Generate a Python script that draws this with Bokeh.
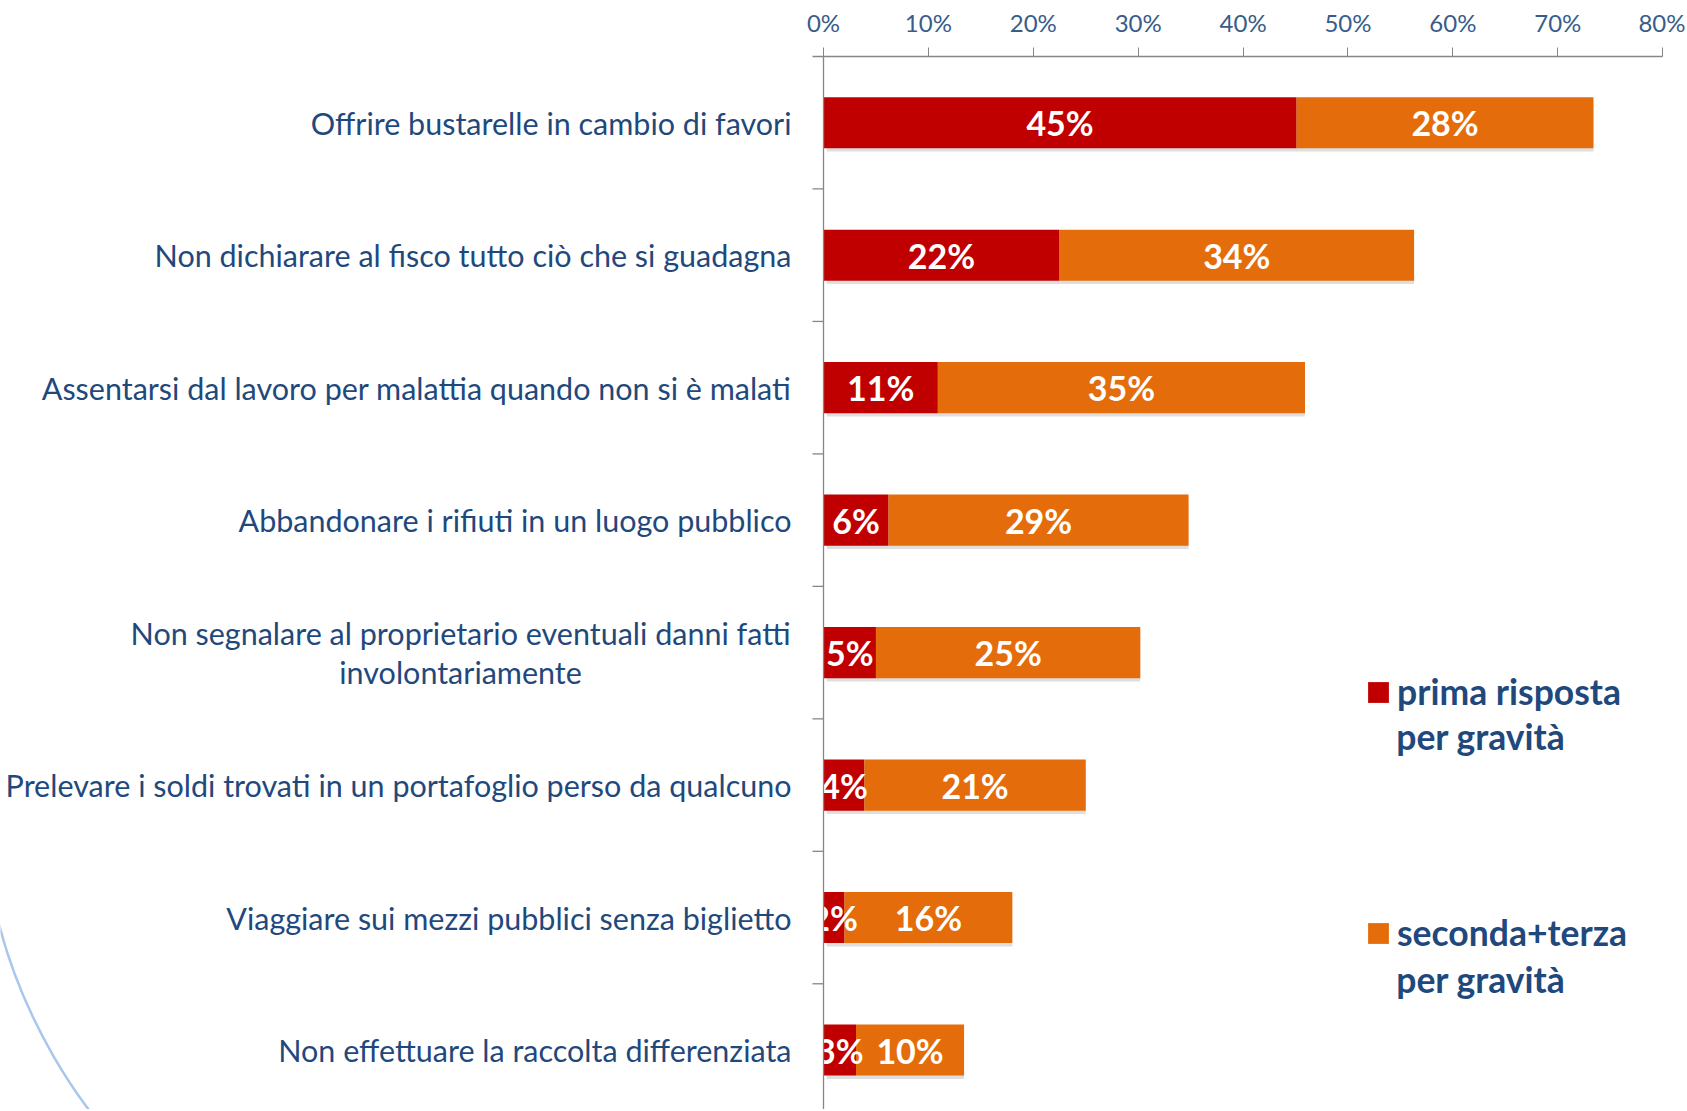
from bokeh.plotting import figure
from bokeh.models import Range1d, FixedTicker, NumeralTickFormatter, Span, Legend, LegendItem, ColumnDataSource, Label
from bokeh.core.properties import value
from bokeh.embed import file_html
from bokeh.resources import INLINE

categories = [
    "Offrire bustarelle in cambio di favori",
    "Non dichiarare al fisco tutto ciò che si guadagna",
    "Assentarsi dal lavoro per malattia quando non si è malati",
    "Abbandonare i rifiuti in un luogo pubblico",
    "Non segnalare al proprietario eventuali danni fatti\ninvolontariamente",
    "Prelevare i soldi trovati in un portafoglio perso da qualcuno",
    "Viaggiare sui mezzi pubblici senza biglietto",
    "Non effettuare la raccolta differenziata",
]
prima = [0.451, 0.225, 0.109, 0.062, 0.050, 0.039, 0.020, 0.031]
seconda = [0.283, 0.338, 0.350, 0.286, 0.252, 0.211, 0.160, 0.103]
prima_labels = ["45%", "22%", "11%", "6%", "5%", "4%", "2%", "3%"]
seconda_labels = ["28%", "34%", "35%", "29%", "25%", "21%", "16%", "10%"]
x_ticks = [0, 0.1, 0.2, 0.3, 0.4, 0.5, 0.6, 0.7, 0.8]
series_names = ["prima risposta", "seconda+terza"]
series_suffix = "per gravità"

RED = "#C00000"
ORANGE = "#E46C0A"
TEXT_BLUE = "#1F497D"
FONT = value("Lato")

n = len(categories)
ypos = [i + 0.5 for i in range(n)]
total = [a + b for a, b in zip(prima, seconda)]
mid1 = [a / 2 for a in prima]
mid2 = [a + b / 2 for a, b in zip(prima, seconda)]

p = figure(width=1685, height=1109, output_backend="svg", toolbar_location=None,
           x_range=Range1d(-0.78456, 0.82174), y_range=Range1d(7.949, 0),
           x_axis_location="above", y_axis_location=None,
           min_border_left=0, min_border_right=0, min_border_bottom=0, min_border_top=56)
p.outline_line_color = None
p.grid.visible = False

ax = p.xaxis[0]
ax.ticker = FixedTicker(ticks=x_ticks)
ax.formatter = NumeralTickFormatter(format="0%")
ax.bounds = (-0.0105, 0.8)
ax.axis_line_color = "#868686"
ax.axis_line_width = 1.3
ax.major_tick_line_color = "#868686"
ax.major_tick_out = 9
ax.major_tick_in = 0
ax.minor_tick_line_color = None
ax.major_label_text_font = "Lato"
ax.major_label_text_font_size = "24px"
ax.major_label_text_color = "#385D8A"
ax.major_label_standoff = 11

# decorative background arc
p.arc(x=[-0.2883], y=[5.507], radius=540, radius_units="screen",
      start_angle=185, end_angle=235, start_angle_units="deg", end_angle_units="deg",
      line_color="#A7C7EC", line_width=2.5)

# y axis line and boundary ticks
p.add_layout(Span(location=0, dimension="height", line_color="#868686", line_width=1.3))
bounds_y = [i for i in range(1, n)]
p.segment(x0=[-0.0105] * len(bounds_y), x1=[0] * len(bounds_y), y0=bounds_y, y1=bounds_y,
          line_color="#868686", line_width=1.3)

src = ColumnDataSource(dict(y=ypos, prima=prima, total=total, mid1=mid1, mid2=mid2,
                            l1=prima_labels, l2=seconda_labels,
                            ys=[v + 0.025 for v in ypos]))

# shadow
p.hbar(y="ys", left=0.003, right="total", height=0.386, source=src,
       fill_color="#000000", fill_alpha=0.13, line_color=None)
r1 = p.hbar(y="y", left=0, right="prima", height=0.386, source=src,
            fill_color=RED, line_color=None)
r2 = p.hbar(y="y", left="prima", right="total", height=0.386, source=src,
            fill_color=ORANGE, line_color=None)

p.text(x="mid1", y="y", text="l1", source=src, text_align="center", text_baseline="middle",
       text_color="white", text_font=FONT, text_font_style="bold", text_font_size="34px")
p.text(x="mid2", y="y", text="l2", source=src, text_align="center", text_baseline="middle",
       text_color="white", text_font=FONT, text_font_style="bold", text_font_size="34px")

# category labels
single = [i for i, c in enumerate(categories) if "\n" not in c]
multi = [i for i, c in enumerate(categories) if "\n" in c]
p.text(x=[-0.0305] * len(single), y=[ypos[i] for i in single], text=[categories[i] for i in single],
       text_align="right", text_baseline="middle", text_color=TEXT_BLUE,
       text_font=FONT, text_font_size="30.5px")
p.text(x=[-0.346] * len(multi), y=[ypos[i] for i in multi], text=[categories[i] for i in multi],
       text_align="center", text_baseline="middle", text_color=TEXT_BLUE,
       text_font=FONT, text_font_size="30.5px", text_line_height=1.1)

legend = Legend(items=[LegendItem(label=series_names[0], renderers=[r1]),
                       LegendItem(label=series_names[1], renderers=[r2])],
                location=(1365, 155), orientation="vertical",
                glyph_width=26, glyph_height=26, label_standoff=6, spacing=198,
                padding=0, margin=0, border_line_color=None, background_fill_alpha=0,
                label_text_font="Lato", label_text_font_style="bold",
                label_text_font_size="35.5px", label_text_color=TEXT_BLUE)
p.add_layout(legend)

for yy in (5.135, 6.965):
    p.add_layout(Label(x=0.546, y=yy, text=series_suffix, text_align="left", text_baseline="middle",
                       text_font="Lato", text_font_style="bold", text_font_size="35.5px",
                       text_color=TEXT_BLUE))

open("out.html", "w").write(file_html(p, INLINE))
